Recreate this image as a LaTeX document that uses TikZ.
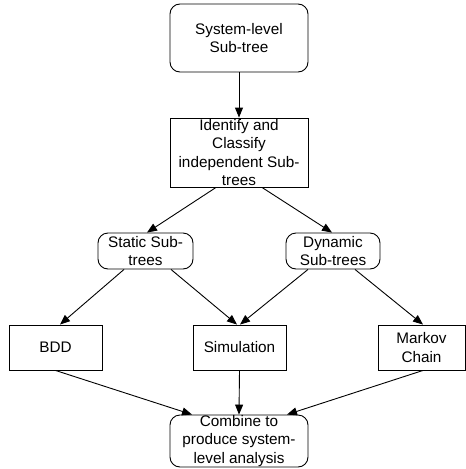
\documentclass[tikz,border=0pt]{standalone}
\usepackage{fontspec}
\setmainfont{Liberation Sans}
\usetikzlibrary{arrows.meta}
\begin{document}
\begin{tikzpicture}[x=1pt,y=-1pt,
  box/.style={draw=black,line width=0.9pt,fill=white,inner sep=0pt,
    label={[align=center,inner sep=0pt,font=\fontsize{15.3}{18.2}\selectfont]center:#1}},
  rbox/.style={box=#1,rounded corners=10pt},
  arr/.style={draw=black,line width=0.9pt,-{Triangle[length=10pt,width=8pt]}}]
\useasboundingbox (0,0) rectangle (466,469);
\node[rbox={System-level\\Sub-tree},minimum width=138pt,minimum height=68pt] (top) at (239,38) {};
\node[box={Identify and\\Classify\\independent Sub-\\trees},minimum width=138pt,minimum height=69pt] (id) at (239,152.5) {};
\node[rbox={Static Sub-\\trees},minimum width=95pt,minimum height=36pt] (st) at (145.5,251) {};
\node[rbox={Dynamic\\Sub-trees},minimum width=94pt,minimum height=36pt] (dy) at (333,251) {};
\node[box={BDD},minimum width=93pt,minimum height=45pt] (bdd) at (55.5,347.5) {};
\node[box={Simulation},minimum width=93pt,minimum height=45pt] (sim) at (239.5,347.5) {};
\node[box={Markov\\Chain},minimum width=87pt,minimum height=45pt] (mk) at (421.5,347.5) {};
\node[rbox={Combine to\\produce system-\\level analysis},minimum width=138pt,minimum height=52pt] (cb) at (239,441) {};
\draw[arr] (top.south) -- (id.north);
\draw[arr] ([xshift=-23pt]id.south) -- ([xshift=1.5pt]st.north);
\draw[arr] ([xshift=23pt]id.south) -- ([xshift=-1pt]dy.north);
\draw[arr] ([xshift=-21.5pt]st.south) -- ([xshift=4.5pt]bdd.north);
\draw[arr] ([xshift=25.5pt]st.south) -- ([xshift=-2.5pt]sim.north);
\draw[arr] ([xshift=-25pt]dy.south) -- ([xshift=0.5pt]sim.north);
\draw[arr] ([xshift=22pt]dy.south) -- ([xshift=1.5pt]mk.north);
\draw[arr] (bdd.south) -- ([xshift=-47pt]cb.north);
\draw[arr] (sim.south) -- (cb.north);
\draw[arr] ([xshift=1.5pt]mk.south) -- ([xshift=48pt]cb.north);
\end{tikzpicture}
\end{document}
